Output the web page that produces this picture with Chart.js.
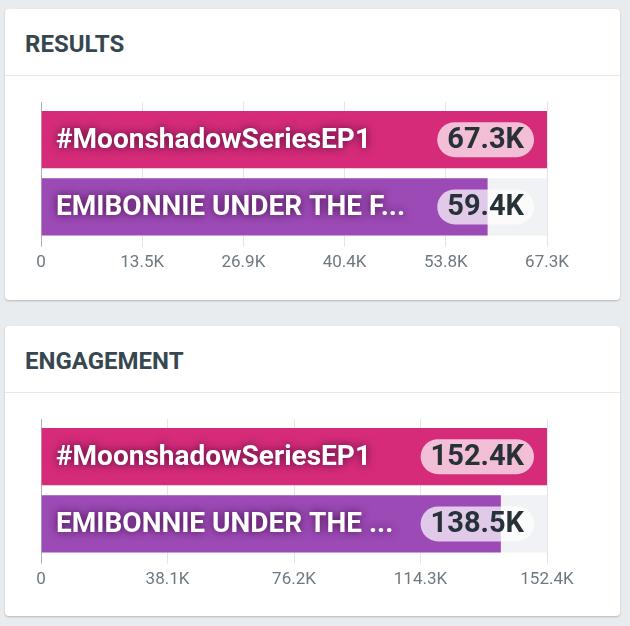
<!DOCTYPE html>
<html>
<head>
<meta charset="utf-8">
<script src="https://cdn.jsdelivr.net/npm/chart.js@4.4.1/dist/chart.umd.min.js"></script>
<style>
    body { margin: 0; background: #e9ecef; font-family: Roboto, sans-serif; }
    .card {
        position: absolute; left: 5px; width: 615px; background: #fff;
        border-radius: 4px; box-shadow: 0 1px 2px rgba(0,0,0,0.22);
    }
    .title {
        position: absolute; left: 20px; top: 21px; line-height: 28px;
        font-size: 24px; font-weight: 700; color: #37474f;
    }
    .divider { position: absolute; left: 0; right: 0; top: 66px; border-top: 1px solid #e6e8ea; }
    .chart { position: absolute; left: 0; top: 67px; width: 615px; height: 224px; }
</style>
</head>
<body>
<div class="card" style="top:9px;height:291px">
    <div class="title">RESULTS</div>
    <div class="divider"></div>
    <div class="chart"><canvas id="results"></canvas></div>
</div>
<div class="card" style="top:326px;height:290px">
    <div class="title">ENGAGEMENT</div>
    <div class="divider"></div>
    <div class="chart"><canvas id="engagement"></canvas></div>
</div>
<script>
const categories = ['#MoonshadowSeriesEP1', 'EMIBONNIE UNDER THE FULL MOON'];
const barColors = ['#d52b79', '#9c4ab6'];

const resultsValues = [67300, 59400];
const resultsTicks = [0, 13460, 26920, 40380, 53840, 67300];
const resultsTickLabels = ['0', '13.5K', '26.9K', '40.4K', '53.8K', '67.3K'];

const engagementValues = [152400, 138500];
const engagementTicks = [0, 38100, 76200, 114300, 152400];
const engagementTickLabels = ['0', '38.1K', '76.2K', '114.3K', '152.4K'];

function formatK(v) {
    return (v / 1000).toFixed(1) + 'K';
}

// names inside the bars + value pill at the right end of the track
const barLabels = {
    id: 'barLabels',
    afterDatasetsDraw(chart) {
        const { ctx, chartArea } = chart;
        const meta = chart.getDatasetMeta(0);
        meta.data.forEach((bar, i) => {
            const text = formatK(chart.data.datasets[0].data[i]);
            ctx.save();
            ctx.font = 'bold 29px Roboto';
            ctx.textBaseline = 'middle';
            ctx.textAlign = 'left';
            const tw = ctx.measureText(text).width;
            const pillH = 35;
            const pillR = chartArea.right - 13;
            const pillL = pillR - tw - 20;
            ctx.fillStyle = 'rgba(255,255,255,0.7)';
            ctx.beginPath();
            ctx.roundRect(pillL, bar.y - pillH / 2, pillR - pillL, pillH, pillH / 2);
            ctx.fill();
            ctx.fillStyle = '#263238';
            ctx.fillText(text, pillL + 10, bar.y + 1);

            ctx.font = 'bold 28px Roboto';
            const startX = chartArea.left + 15;
            const maxW = pillL - 16 - startX;
            let name = chart.data.labels[i];
            if (ctx.measureText(name).width > maxW) {
                while (name.length && ctx.measureText(name + '...').width > maxW) {
                    name = name.slice(0, -1);
                }
                name += '...';
            }
            ctx.shadowColor = 'rgba(45,0,45,0.8)';
            ctx.shadowBlur = 8;
            ctx.fillStyle = '#ffffff';
            ctx.fillText(name, startX, bar.y + 1);
            ctx.restore();
        });
    }
};

function gridColor(c) {
    return c.index === 0 ? '#a9b0b5' : '#e2e5e8';
}

function drawBars(canvasId, values, tickValues, tickLabels) {
    const max = tickValues[tickValues.length - 1];
    const setTicks = (scale) => {
        scale.ticks = tickValues.map(v => ({ value: v }));
    };

    const config = {
        type: 'bar',
        data: {
            labels: categories,
            datasets: [
                {
                    data: values,
                    backgroundColor: barColors,
                    grouped: false,
                    barPercentage: 0.85,
                    categoryPercentage: 1
                },
                {
                    data: values.map(() => max),
                    backgroundColor: '#f1f2f5',
                    grouped: false,
                    barPercentage: 0.85,
                    categoryPercentage: 1
                }
            ]
        },
        options: {
            indexAxis: 'y',
            responsive: true,
            maintainAspectRatio: false,
            animation: false,
            layout: { padding: { left: 36, right: 73, top: 26, bottom: 21 } },
            plugins: {
                legend: { display: false },
                tooltip: { enabled: false }
            },
            scales: {
                x: {
                    min: 0,
                    max: max,
                    afterBuildTicks: setTicks,
                    grid: { color: gridColor, tickLength: 6 },
                    border: { display: false },
                    ticks: {
                        color: '#6e7880',
                        padding: 6,
                        font: { size: 17 },
                        callback: (v, i) => tickLabels[i]
                    }
                },
                x2: {
                    position: 'top',
                    min: 0,
                    max: max,
                    afterBuildTicks: setTicks,
                    grid: { color: gridColor, tickLength: 4, drawOnChartArea: false },
                    border: { display: false },
                    ticks: { display: false }
                },
                y: { display: false }
            }
        },
        plugins: [barLabels]
    };

    Chart.defaults.font.family = 'Roboto';
    new Chart(document.getElementById(canvasId), config);
}

drawBars('results', resultsValues, resultsTicks, resultsTickLabels);
drawBars('engagement', engagementValues, engagementTicks, engagementTickLabels);
</script>
</body>
</html>
